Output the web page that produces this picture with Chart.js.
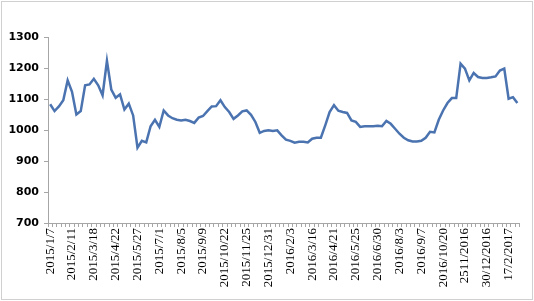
<!DOCTYPE html>
<html>
<head>
<meta charset="utf-8">
<script src="https://cdn.jsdelivr.net/npm/chart.js@4"></script>
<style>
  html, body { margin: 0; padding: 0; background: #fff; }
  #wrap { width: 534px; height: 301px; }
</style>
</head>
<body>
<div id="wrap"><canvas id="myChart" width="534" height="301"></canvas></div>
<script>
// one label every 5 weeks, the rest of the categories are blank
const tickLabels = ["2015/1/7", "2015/2/11", "2015/3/18", "2015/4/22", "2015/5/27", "2015/7/1",
    "2015/8/5", "2015/9/9", "2015/10/22", "2015/11/25", "2015/12/31", "2016/2/3", "2016/3/16",
    "2016/4/21", "2016/5/25", "2016/6/30", "2016/8/3", "2016/9/7", "2016/10/20", "2511/2016",
    "30/12/2016", "17/2/2017"]

const values = [1083, 1061, 1076, 1096, 1160, 1123, 1050, 1061, 1144, 1147,
    1165, 1144, 1112, 1223, 1130, 1104, 1115, 1066, 1085, 1047,
    943, 965, 960, 1012, 1033, 1010, 1063, 1047, 1038, 1033,
    1031, 1033, 1029, 1023, 1040, 1045, 1061, 1076, 1077, 1096,
    1074, 1058, 1036, 1047, 1060, 1063, 1049, 1026, 991, 997,
    999, 997, 999, 983, 969, 965, 959, 962, 962, 960,
    972, 975, 975, 1015, 1058, 1080, 1062, 1058, 1055, 1031,
    1026, 1010, 1012, 1012, 1012, 1014, 1012, 1029, 1020, 1004,
    988, 975, 967, 963, 963, 965, 975, 994, 992, 1033,
    1063, 1087, 1103, 1103, 1214, 1198, 1160, 1184, 1171, 1168,
    1168, 1170, 1173, 1192, 1198, 1101, 1106, 1087]

const yTicks = [700, 800, 900, 1000, 1100, 1200, 1300]

const labels = values.map((v, i) => i % 5 == 0 ? (tickLabels[i / 5] || "") : "")

const frame = {
    id: "frame",
    beforeDraw(chart) {
        const ctx = chart.ctx;
        ctx.save();
        ctx.fillStyle = "#fff";
        ctx.fillRect(0, 0, chart.width, chart.height);
        ctx.strokeStyle = "#d0d0d0";
        ctx.lineWidth = 1;
        ctx.strokeRect(1.5, 1.5, chart.width - 3, chart.height - 3);
        ctx.restore();
    }
}

const data = {
    type: "line",
    data: {
        labels: labels,
        datasets: [{
            data: values,
            borderColor: "#4a73b0",
            borderWidth: 2.5,
            pointRadius: 0,
            tension: 0,
            fill: false
        }]
    },
    options: {
        responsive: false,
        animation: false,
        layout: { padding: { left: 0, top: 37, right: 12, bottom: 0 } },
        plugins: { legend: { display: false }, tooltip: { enabled: false } },
        scales: {
            x: {
                type: "category",
                offset: true,
                afterFit: s => { s.height = 78; },
                border: { color: "#a6a6a6", width: 1 },
                grid: { drawOnChartArea: false, offset: true, tickLength: 4, color: "#a6a6a6" },
                ticks: {
                    autoSkip: false,
                    maxRotation: 90,
                    minRotation: 90,
                    padding: 1,
                    color: "#000",
                    font: { family: "Liberation Serif", size: 13 }
                }
            },
            y: {
                min: 700,
                max: 1300,
                afterFit: s => { s.width = 48; },
                afterBuildTicks: s => { s.ticks = yTicks.map(v => ({ value: v })); },
                border: { color: "#a6a6a6", width: 1 },
                grid: { drawOnChartArea: false, tickLength: 4, color: "#a6a6a6" },
                ticks: {
                    padding: 5,
                    color: "#000",
                    callback: v => String(v),
                    font: { family: "DejaVu Sans", size: 11, weight: "bold" }
                }
            }
        }
    },
    plugins: [frame]
}

new Chart(document.getElementById("myChart"), data);
</script>
</body>
</html>
